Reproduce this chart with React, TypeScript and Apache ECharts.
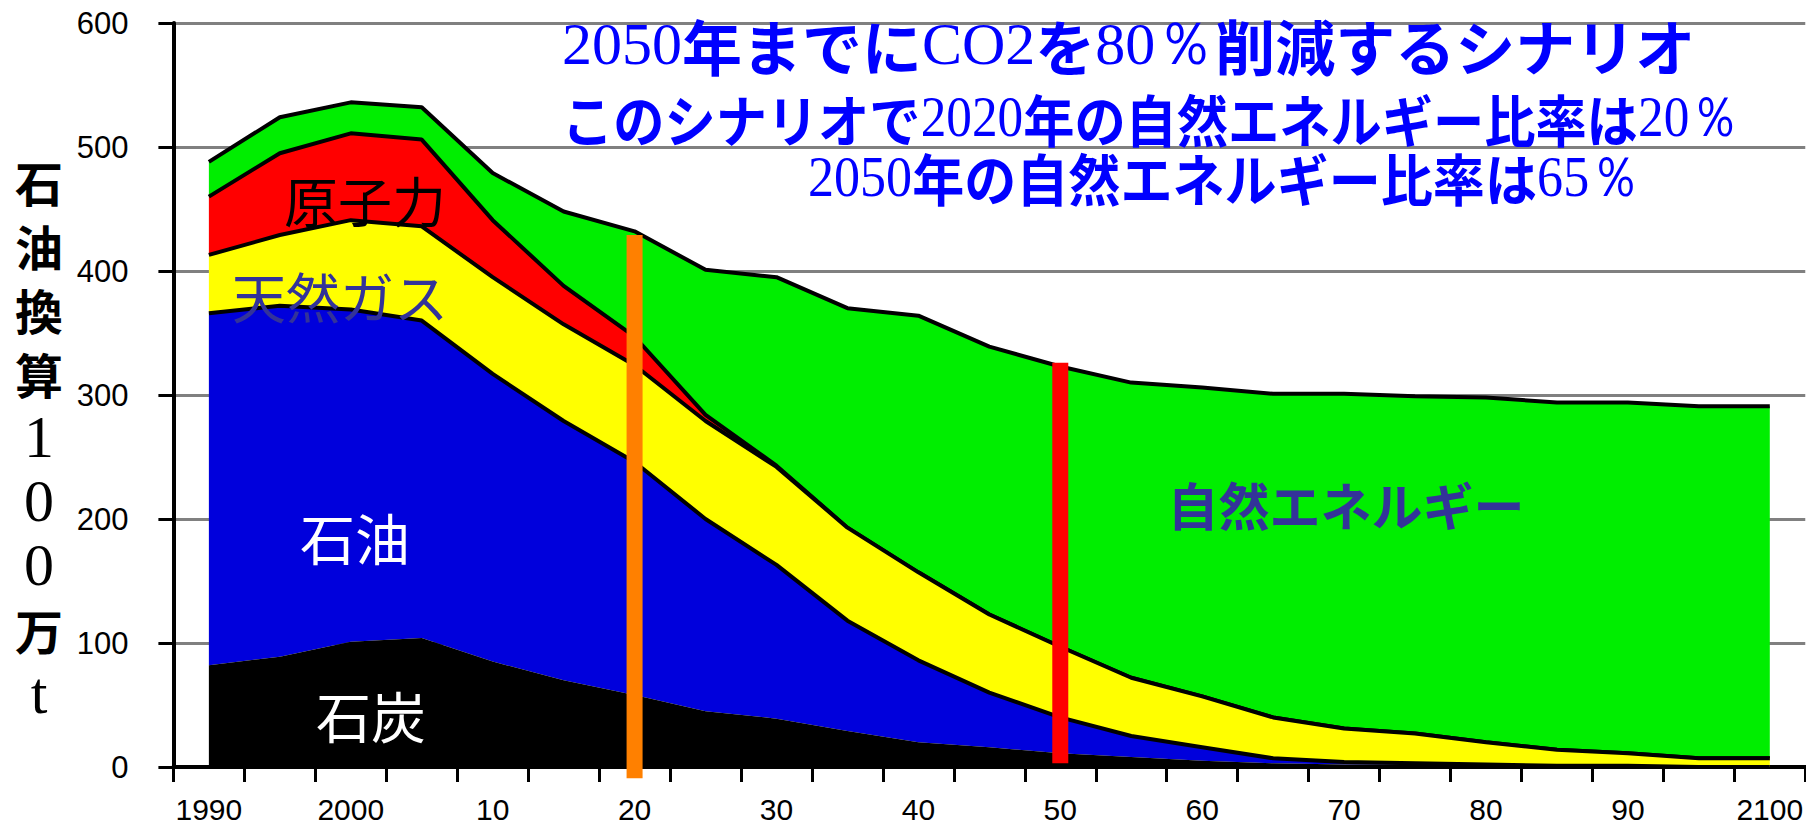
import React, { useEffect, useRef } from "react";
import * as echarts from "echarts";

const years = [
  "1990", "1995", "2000", "2005", "2010", "2015", "2020", "2025", "2030", "2035", "2040", "2045",
  "2050", "2055", "2060", "2065", "2070", "2075", "2080", "2085", "2090", "2095", "2100",
];
const xTickLabels = ["1990", "2000", "10", "20", "30", "40", "50", "60", "70", "80", "90", "2100"];
const yTicks = { min: 0, max: 600, interval: 100 };

const coal = [82, 89, 101, 104, 85, 70, 58, 45, 39, 29, 20, 16, 11, 8, 5, 3, 2, 2, 1, 1, 0, 0, 0];
const oil = [284, 283, 268, 256, 232, 209, 188, 155, 124, 89, 66, 44, 29, 17, 11, 4, 2, 1, 1, 0, 1, 0, 0];
const gas = [47, 57, 72, 76, 78, 78, 78, 79, 79, 75, 71, 63, 57, 47, 41, 33, 27, 24, 18, 13, 10, 7, 7];
const nuclear = [47, 66, 70, 70, 46, 31, 23, 5, 1, 0, 0, 0, 0, 0, 0, 0, 0, 0, 0, 0, 0, 0, 0];
const renewable = [28, 29, 25, 26, 38, 60, 85, 117, 152, 177, 207, 216, 226, 238, 249, 261, 270, 272, 278, 280, 283, 284, 284];

const seriesNames = ["石炭", "石油", "天然ガス", "原子力", "自然エネルギー"];
const seriesColors = ["#000000", "#0000DC", "#FFFF00", "#FF0000", "#00EE00"];

const markerYears = ["2020", "2050"];
const markerTops = [429, 326];
const markerBottoms = [-9, 3];
const markerColors = ["#FF8000", "#FF0000"];

const yTitleChars = ["石", "油", "換", "算", "1", "0", "0", "万", "t"];

const SERIF = "Liberation Serif, Times New Roman, serif";
const GOTHIC = "Noto Sans CJK JP, sans-serif";

// title lines: segments [text, style]
const titleLines: [string, string][][] = [
  [["2050", "s"], ["年までに", "g"], ["CO2", "s"], ["を", "g"], ["80", "s"], ["％", "s"], ["削減するシナリオ", "g"]],
  [["このシナリオで", "g"], ["2020", "s"], ["年の自然エネルギー比率は", "g"], ["20", "s"], ["％", "s"]],
  [["2050", "s"], ["年の自然エネルギー比率は", "g"], ["65", "s"], ["％", "s"]],
];

export default function App() {
  const ref = useRef<HTMLDivElement>(null);

  useEffect(() => {
    if (!ref.current) return;
    const chart = echarts.init(ref.current, null, { renderer: "svg" });
    const dataSets = [coal, oil, gas, nuclear, renewable];

    const option: any = {
      animation: false,
      grid: { left: 173.4, top: 23, height: 744, width: 1639.3, containLabel: false },
      xAxis: {
        type: "category",
        data: years,
        boundaryGap: true,
        axisLine: { lineStyle: { color: "#000", width: 4 } },
        axisTick: { show: true, interval: 0, length: 15, lineStyle: { color: "#000", width: 3 } },
        axisLabel: {
          interval: 1,
          formatter: (_v: string, i: number) => xTickLabels[i / 2] ?? "",
          fontSize: 30,
          fontFamily: "Liberation Sans, Arial, sans-serif",
          color: "#000",
          margin: 27,
        },
        splitLine: { show: false },
      },
      yAxis: {
        type: "value",
        min: yTicks.min,
        max: yTicks.max,
        interval: yTicks.interval,
        axisLine: { show: true, lineStyle: { color: "#000", width: 4 } },
        axisTick: { show: true, length: 15, lineStyle: { color: "#000", width: 3 } },
        axisLabel: {
          fontSize: 31,
          fontFamily: "Liberation Sans, Arial, sans-serif",
          color: "#000",
          margin: 45,
        },
        splitLine: { show: true, lineStyle: { color: "#808080", width: 3 } },
      },
      series: dataSets.map((d, i) => ({
        name: seriesNames[i],
        type: "line",
        stack: "total",
        data: d,
        symbol: "none",
        smooth: false,
        z: 10 - i,
        areaStyle: { color: seriesColors[i], opacity: 1 },
        lineStyle: { color: "#000", width: i === 0 ? 0 : 4 },
        emphasis: { disabled: true },
      })),
    };
    chart.setOption(option);

    const texts: any[] = [];
    // y axis title
    yTitleChars.forEach((ch, i) => {
      const isCJK = /[\u3000-\u9fff]/.test(ch);
      texts.push({
        type: "text",
        x: 39,
        y: 181 + i * 64,
        z: 120,
        style: {
          text: ch,
          fill: "#000",
          fontSize: isCJK ? 48 : 60,
          lineHeight: isCJK ? 50 : 56,
          fontWeight: isCJK ? "bold" : "normal",
          fontFamily: isCJK ? GOTHIC : SERIF,
          textAlign: "center",
          textVerticalAlign: "middle",
        },
      });
    });

    // inner labels
    const innerLabels = [
      { text: seriesNames[3], x: 365, y: 199, color: "#000000", size: 54, weight: "normal" },
      { text: seriesNames[2], x: 340, y: 295, color: "#333399", size: 54, weight: "normal" },
      { text: seriesNames[1], x: 355, y: 536, color: "#FFFFFF", size: 55, weight: "normal" },
      { text: seriesNames[0], x: 371, y: 714, color: "#FFFFFF", size: 55, weight: "normal" },
      { text: seriesNames[4], x: 1346, y: 504, color: "#333399", size: 51, weight: "bold" },
    ];
    innerLabels.forEach((l) => {
      texts.push({
        type: "text",
        x: l.x,
        y: l.y,
        z: 120,
        style: {
          text: l.text,
          fill: l.color,
          fontSize: l.size,
          fontWeight: l.weight,
          fontFamily: GOTHIC,
          textAlign: "center",
          textVerticalAlign: "middle",
        },
      });
    });

    // titles
    const titleGeom = [
      { x: 562, y: 44, size: 60, scaleX: 1.0 },
      { x: 562, y: 117, size: 56, scaleX: 0.915 },
      { x: 808, y: 177, size: 56, scaleX: 0.93 },
    ];
    titleLines.forEach((segs, li) => {
      const g = titleGeom[li];
      const text = segs.map(([t, s]) => `{${s}|${t}}`).join("");
      texts.push({
        type: "text",
        x: g.x,
        y: g.y,
        scaleX: g.scaleX,
        z: 120,
        style: {
          text,
          textAlign: "left",
          textVerticalAlign: "middle",
          fill: "#0000FF",
          rich: {
            s: { fontFamily: SERIF, fontSize: g.size, fill: "#0000FF", fontWeight: "normal" },
            g: { fontFamily: GOTHIC, fontSize: g.size, fill: "#0000FF", fontWeight: "bold" },
          },
        },
      });
    });

    // vertical marker bars
    const bars = markerYears.map((yr, i) => {
      const top = chart.convertToPixel({ xAxisIndex: 0, yAxisIndex: 0 }, [yr, markerTops[i]]) as number[];
      const bot = chart.convertToPixel({ xAxisIndex: 0, yAxisIndex: 0 }, [yr, markerBottoms[i]]) as number[];
      return {
        type: "rect",
        z: 110,
        shape: { x: top[0] - 8, y: top[1], width: 16, height: bot[1] - top[1] },
        style: { fill: markerColors[i] },
      };
    });

    chart.setOption({ graphic: [...bars, ...texts] });

    return () => chart.dispose();
  }, []);

  return (
    <div
      ref={ref}
      style={{ position: "absolute", left: 0, top: 0, width: 1806, height: 825, background: "#fff" }}
    />
  );
}
